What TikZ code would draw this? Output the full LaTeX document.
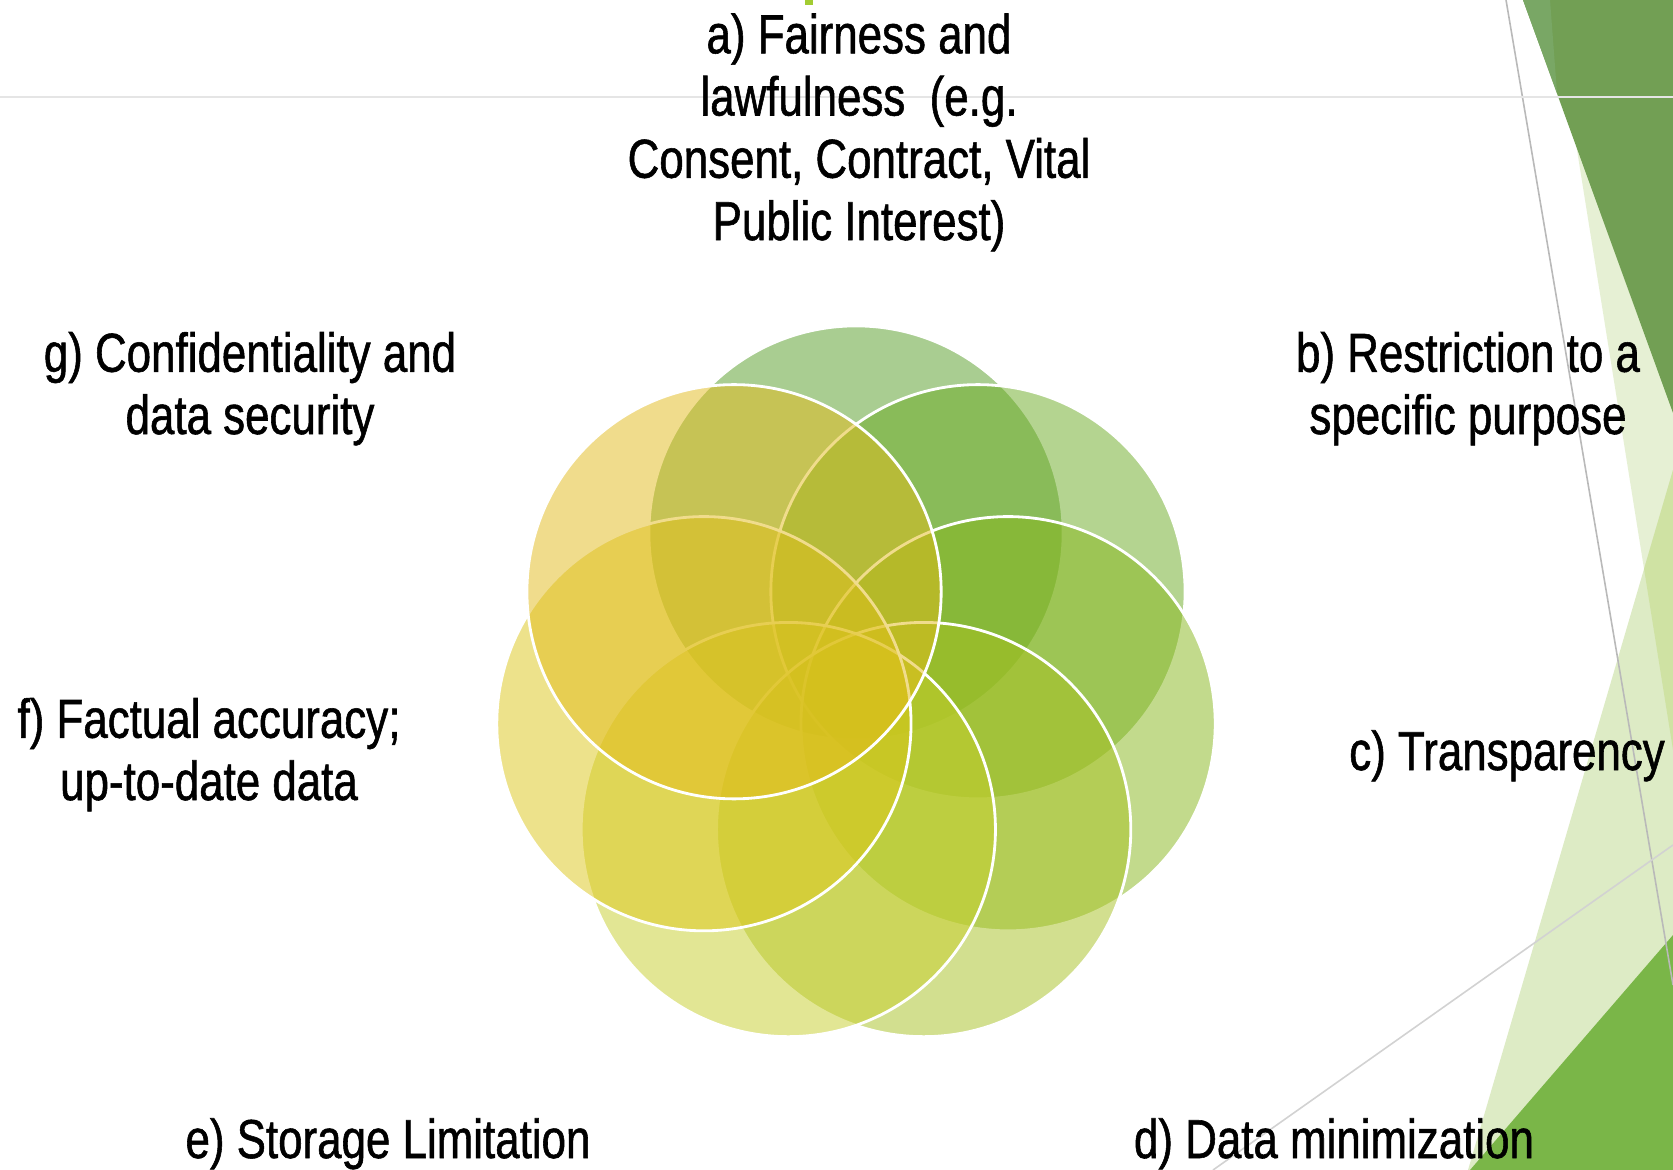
\documentclass[tikz,border=0pt]{standalone}
\usepackage{fontspec}
\usepackage{tikz}
\usepackage{xcolor}
\usetikzlibrary{calc}
\newfontfamily\dinfont[FakeStretch=0.8, FakeBold=1]{Liberation Sans}

\definecolor{petalA}{RGB}{85,157,37}
\definecolor{petalB}{RGB}{107,171,35}
\definecolor{petalC}{RGB}{135,183,27}
\definecolor{petalD}{RGB}{167,193,33}
\definecolor{petalE}{RGB}{199,207,43}
\definecolor{petalF}{RGB}{221,199,25}
\definecolor{petalG}{RGB}{227,187,27}
\definecolor{facetDark}{RGB}{114,159,84}
\definecolor{facetSheen}{RGB}{121,167,101}
\definecolor{facetPale}{RGB}{230,240,212}
\definecolor{facetLight}{RGB}{221,235,197}
\definecolor{facetMid}{RGB}{207,226,163}
\definecolor{facetBright}{RGB}{122,182,72}

\tikzset{
    petal/.style = {circle, draw=white, line width=0.8pt, fill opacity=0.5, minimum size=4.14cm, inner sep=0pt},
    principle/.style = {align=center, font=\dinfont\fontsize{15.6pt}{17.7pt}\selectfont, inner sep=0pt, anchor=base},
    rule-line/.style = {line width=0.45pt},
}

\begin{document}
\begin{tikzpicture}[x=0.01cm, y=-0.01cm]
\fill[white] (0,0) rectangle (1673,1170);
\useasboundingbox (0,0) rectangle (1673,1170);

% facets on the right edge
\fill[facetPale] (1553,0) -- (1673,0) -- (1673,750) -- cycle;
\fill[facetLight] (1673,470) -- (1673,1170) -- (1468,1170) -- cycle;
\begin{scope}
  \clip (1553,0) -- (1673,0) -- (1673,750) -- cycle;
  \fill[facetMid] (1673,470) -- (1673,1170) -- (1468,1170) -- cycle;
\end{scope}
\fill[facetBright] (1673,935) -- (1673,1170) -- (1470,1170) -- cycle;
\fill[facetDark] (1523,0) -- (1673,0) -- (1673,413) -- cycle;
\fill[facetSheen] (1523,0) -- (1550,0) -- (1557,93) -- cycle;
\draw[rule-line, gray!55] (1506,0) -- (1673,985);
\draw[rule-line, gray!35] (1213,1170) -- (1673,845);
\draw[line width=0.6pt, gray!20] (0,97) -- (1673,97);
\fill[facetBright!70!yellow] (805,0) rectangle (813,5);

% seven overlapping circles
\coordinate (hub) at (856,689);
\foreach \name/\col [count=\i from 0] in {fair/petalA, purpose/petalB, transp/petalC, minim/petalD, storage/petalE, accuracy/petalF, secur/petalG}
  \node[petal, fill=\col] (petal-\name) at ($(hub)+({-90+360/7*\i}:156)$) {};

% principles (anchored on the last line)
\node[principle] (fair) at (859,240) {a) Fairness and\\lawfulness\ \ (e.g.\\Consent, Contract, Vital\\Public Interest)};
\node[principle] (purpose) at (1468,434) {b) Restriction to a\\specific purpose};
\node[principle] (transp) at (1507,770) {c) Transparency};
\node[principle] (minim) at (1334,1158) {d) Data minimization};
\node[principle] (storage) at (388,1158) {e) Storage Limitation};
\node[principle] (accuracy) at (209,800) {f) Factual accuracy;\\up-to-date data};
\node[principle] (secur) at (250,434) {g) Confidentiality and\\data security};
\end{tikzpicture}
\end{document}
